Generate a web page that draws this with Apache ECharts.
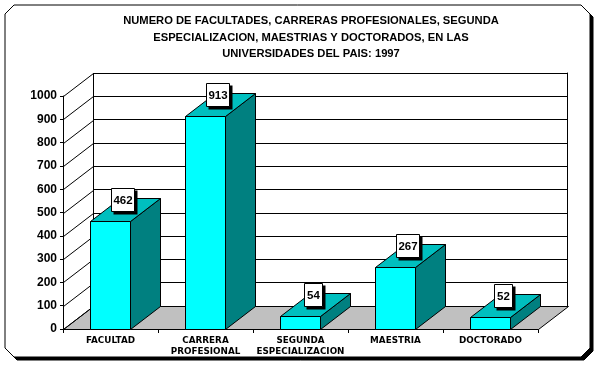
<!DOCTYPE html>
<html>
<head>
<meta charset="utf-8">
<style>
  html, body { margin: 0; padding: 0; background: #fff; }
  #chart { width: 604px; height: 370px; }
</style>
</head>
<body>
<div id="chart"></div>
<script src="https://cdn.jsdelivr.net/npm/echarts@6/dist/echarts.min.js"></script>
<script>
const categories = ["FACULTAD", "CARRERA\nPROFESIONAL", "SEGUNDA\nESPECIALIZACION", "MAESTRIA", "DOCTORADO"];
const values = [462, 913, 54, 267, 52];
const yTicks = [0, 100, 200, 300, 400, 500, 600, 700, 800, 900, 1000];
const titleText = "NUMERO DE FACULTADES, CARRERAS PROFESIONALES, SEGUNDA\nESPECIALIZACION, MAESTRIAS Y DOCTORADOS, EN LAS\nUNIVERSIDADES DEL PAIS: 1997";

// profundidad del efecto 3D
const depthX = 30;
const depthY = 23;
const barWidth = 40;
const labelFont = "Liberation Sans";
const black = { stroke: "#000", lineWidth: 1 };

const chart = echarts.init(document.getElementById("chart"), null, { renderer: "canvas" });

function frame(dx, dy, style) {
  const l = 5 + dx, t = 5 + dy, r = 590 + dx, b = 357 + dy, c = 9;
  return {
    type: "polygon",
    z: -10,
    silent: true,
    shape: {
      points: [[l + c, t], [r - c, t], [r, t + c], [r, b - c], [r - c, b], [l + c, b], [l, b - c], [l, t + c]],
    },
    style: style,
  };
}

// piso gris
function renderFloor(params, api) {
  const cs = params.coordSys;
  const y = Math.round(api.coord([0, 0])[1]) + 0.5;
  const l = cs.x + 0.5, r = cs.x + cs.width + 0.5;
  return {
    type: "polygon",
    shape: { points: [[l, y], [l + depthX, y - depthY], [r + depthX, y - depthY], [r, y]] },
    style: { fill: "#C0C0C0", ...black },
  };
}

// lineas diagonales de la pared izquierda
function renderWall(params, api) {
  const cs = params.coordSys;
  const y = Math.round(api.coord([0, api.value(0)])[1]) + 0.5;
  const x = cs.x + 0.5;
  return {
    type: "line",
    shape: { x1: x, y1: y, x2: x + depthX, y2: y - depthY },
    style: black,
  };
}

function renderBar(params, api) {
  const p = api.coord([api.value(0), api.value(1)]);
  const base = api.coord([api.value(0), 0]);
  const l = Math.floor(p[0] - barWidth / 2) + 0.5;
  const r = l + barWidth;
  const t = Math.round(p[1]) + 0.5;
  const b = Math.round(base[1]) + 0.5;
  return {
    type: "group",
    children: [
      { type: "polygon", shape: { points: [[r, t], [r + depthX, t - depthY], [r + depthX, b - depthY], [r, b]] }, style: { fill: "#008080", ...black } },
      { type: "polygon", shape: { points: [[l, t], [l + depthX, t - depthY], [r + depthX, t - depthY], [r, t]] }, style: { fill: "#00BFBF", ...black } },
      { type: "rect", shape: { x: l, y: t, width: barWidth, height: b - t }, style: { fill: "#00FFFF", ...black } },
    ],
  };
}

// etiqueta con sombra sobre cada barra
function renderLabel(params, api) {
  const p = api.coord([api.value(0), api.value(1)]);
  const text = String(api.value(1));
  const w = text.length > 2 ? 23 : 18;
  const h = 23;
  const cx = Math.floor(p[0]) + 13;
  const cy = Math.round(p[1]) - 22;
  const x = Math.floor(cx - w / 2) + 0.5;
  const y = Math.round(cy - h / 2) + 0.5;
  return {
    type: "group",
    children: [
      { type: "rect", shape: { x: x + 2, y: y + 2, width: w + 1, height: h + 1 }, style: { fill: "#000" } },
      { type: "rect", shape: { x: x, y: y, width: w, height: h }, style: { fill: "#fff", ...black } },
      {
        type: "text",
        style: {
          x: x + w / 2, y: y + h / 2 + 0.5, text: text, align: "center", verticalAlign: "middle",
          fill: "#000", font: "bold 11.5px '" + labelFont + "'",
        },
      },
    ],
  };
}

chart.setOption({
  animation: false,
  backgroundColor: "#fff",
  graphic: {
    elements: [
      frame(3, 3, { fill: "#000", stroke: "#000", lineWidth: 1 }),
      frame(0, 0, { fill: "#fff", stroke: "#000", lineWidth: 1 }),
    ],
  },
  title: {
    text: titleText,
    left: 306,
    top: 8,
    textAlign: "center",
    textStyle: { fontFamily: labelFont, fontWeight: "bold", fontSize: 11.2, lineHeight: 16.5, color: "#000" },
  },
  grid: [
    { left: 63, right: 66, top: 96, bottom: 41 },
    { left: 93, right: 37, top: 73, bottom: 64 },
  ],
  xAxis: [
    {
      type: "category",
      data: categories,
      gridIndex: 0,
      axisLine: { show: true, lineStyle: { color: "#000" } },
      axisTick: { show: true, alignWithLabel: false, length: 4, lineStyle: { color: "#000" } },
      axisLabel: {
        interval: 0, color: "#000", fontFamily: "DejaVu Sans", fontWeight: "bold", fontSize: 8.8,
        lineHeight: 11, margin: 6,
      },
    },
    {
      type: "category",
      data: categories,
      gridIndex: 1,
      axisLine: { show: false },
      axisTick: { show: false },
      axisLabel: { show: false },
    },
  ],
  yAxis: [
    {
      type: "value",
      gridIndex: 0,
      min: 0,
      max: 1000,
      interval: 100,
      axisLine: { show: true, lineStyle: { color: "#000" } },
      axisTick: { show: true, length: 3, lineStyle: { color: "#000" } },
      splitLine: { show: false },
      axisLabel: { color: "#000", fontFamily: labelFont, fontWeight: "bold", fontSize: 12, margin: 6, formatter: (v) => String(v) },
    },
    {
      type: "value",
      gridIndex: 1,
      min: 0,
      max: 1000,
      interval: 100,
      position: "right",
      axisLine: { show: true, lineStyle: { color: "#000" } },
      axisTick: { show: false },
      axisLabel: { show: false },
      splitLine: { show: true, lineStyle: { color: "#000", width: 1 } },
    },
  ],
  series: [
    { type: "custom", z: 1, silent: true, clip: false, xAxisIndex: 0, yAxisIndex: 0, data: [0], renderItem: renderFloor },
    { type: "custom", z: 2, silent: true, clip: false, xAxisIndex: 0, yAxisIndex: 0, data: yTicks.map((v) => [v]), renderItem: renderWall },
    { type: "custom", z: 3, silent: true, clip: false, xAxisIndex: 1, yAxisIndex: 1, data: [[0]], renderItem: (params) => ({
        type: "line",
        shape: { x1: params.coordSys.x + 0.5, y1: params.coordSys.y + 0.5, x2: params.coordSys.x + 0.5, y2: params.coordSys.y + params.coordSys.height + 0.5 },
        style: black,
      }) },
    { type: "custom", z: 5, silent: true, clip: false, xAxisIndex: 0, yAxisIndex: 0, data: values.map((v, i) => [i, v]), renderItem: renderBar },
    { type: "custom", z: 6, silent: true, clip: false, xAxisIndex: 0, yAxisIndex: 0, data: values.map((v, i) => [i, v]), renderItem: renderLabel },
  ],
});
</script>
</body>
</html>
